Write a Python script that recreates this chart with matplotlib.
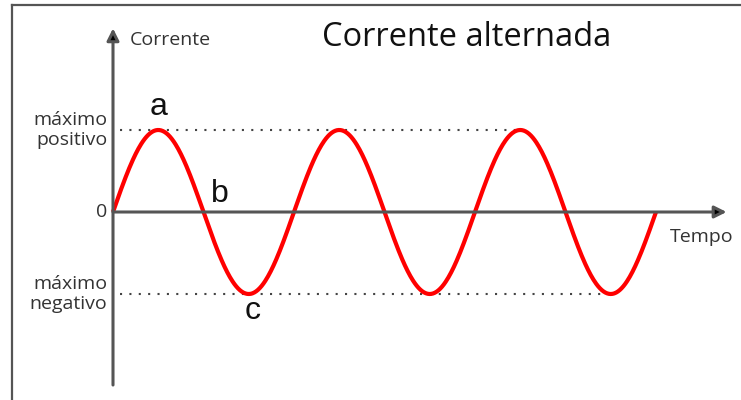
import numpy as np
import matplotlib.pyplot as plt
from matplotlib.lines import Line2D

# chart data
amplitude = 1.0
cycles = 3
y_labels = ['máximo\npositivo', '0', 'máximo\nnegativo']
y_label_values = [amplitude, 0.0, -amplitude]
point_names = ['a', 'b', 'c']
point_t = [0.25, 0.5, 0.75]
point_v = [amplitude, 0.0, -amplitude]

title = 'Corrente alternada'
xlabel = 'Tempo'
ylabel = 'Corrente'

fig = plt.figure(figsize=(7.41, 4.0), dpi=100)
ax = fig.add_axes([0, 0, 1, 1])
ax.set_xlim(-113 / 181, 628 / 181)
ax.set_ylim(-188 / 82, 212 / 82)
ax.axis('off')

font = 'Open Sans'
axis_col = '#555555'

# frame (left and top only)
fig.add_artist(Line2D([12 / 741, 12 / 741], [0, 395 / 400], color=axis_col, lw=1.6))
fig.add_artist(Line2D([12 / 741, 1], [395 / 400, 395 / 400], color=axis_col, lw=1.6))

# dotted max/min lines
ax.plot([0.04, 2.25], [amplitude, amplitude], color='#444444', lw=1.5, ls=(0, (1, 3.5)))
ax.plot([0.04, 2.75], [-amplitude, -amplitude], color='#444444', lw=1.5, ls=(0, (1, 3.5)))

# axes with arrows
ax.annotate('', xy=(0, 2.24), xytext=(0, -2.11),
            arrowprops=dict(arrowstyle='-|>', color=axis_col, lw=2.2,
                            mutation_scale=18, shrinkA=0, shrinkB=0,
                            fc='black', ec=axis_col))
ax.annotate('', xy=(3.39, 0), xytext=(0, 0),
            arrowprops=dict(arrowstyle='-|>', color=axis_col, lw=2.2,
                            mutation_scale=18, shrinkA=0, shrinkB=0,
                            fc='black', ec=axis_col))

# the current
t = np.linspace(0, cycles, 600)
ax.plot(t, amplitude * np.sin(2 * np.pi * t), color='#ff0000', lw=3, solid_capstyle='butt')

# texts
ax.text(0.09, 2.10, ylabel, fontsize=14, family=font, color='#333333', va='center')
ax.text(1.956, 2.13, title, fontsize=23.5, family=font, color='#111111', ha='center', va='center')
ax.text(3.25, -0.30, xlabel, fontsize=14, family=font, color='#333333', ha='center', va='center')
for lab, v in zip(y_labels, y_label_values):
    ax.text(-0.03, v, lab, fontsize=14, family=font, color='#333333',
            ha='right', va='center', linespacing=1.2)

offsets = [(0.0, 0.28), (0.09, 0.22), (0.023, -0.21)]
for name, pt, pv, (dx, dy) in zip(point_names, point_t, point_v, offsets):
    ax.text(pt + dx, pv + dy, name, fontsize=23, family='Liberation Sans', color='#111111',
            ha='center', va='center')

fig.savefig('out.png', dpi=100, facecolor='white')
